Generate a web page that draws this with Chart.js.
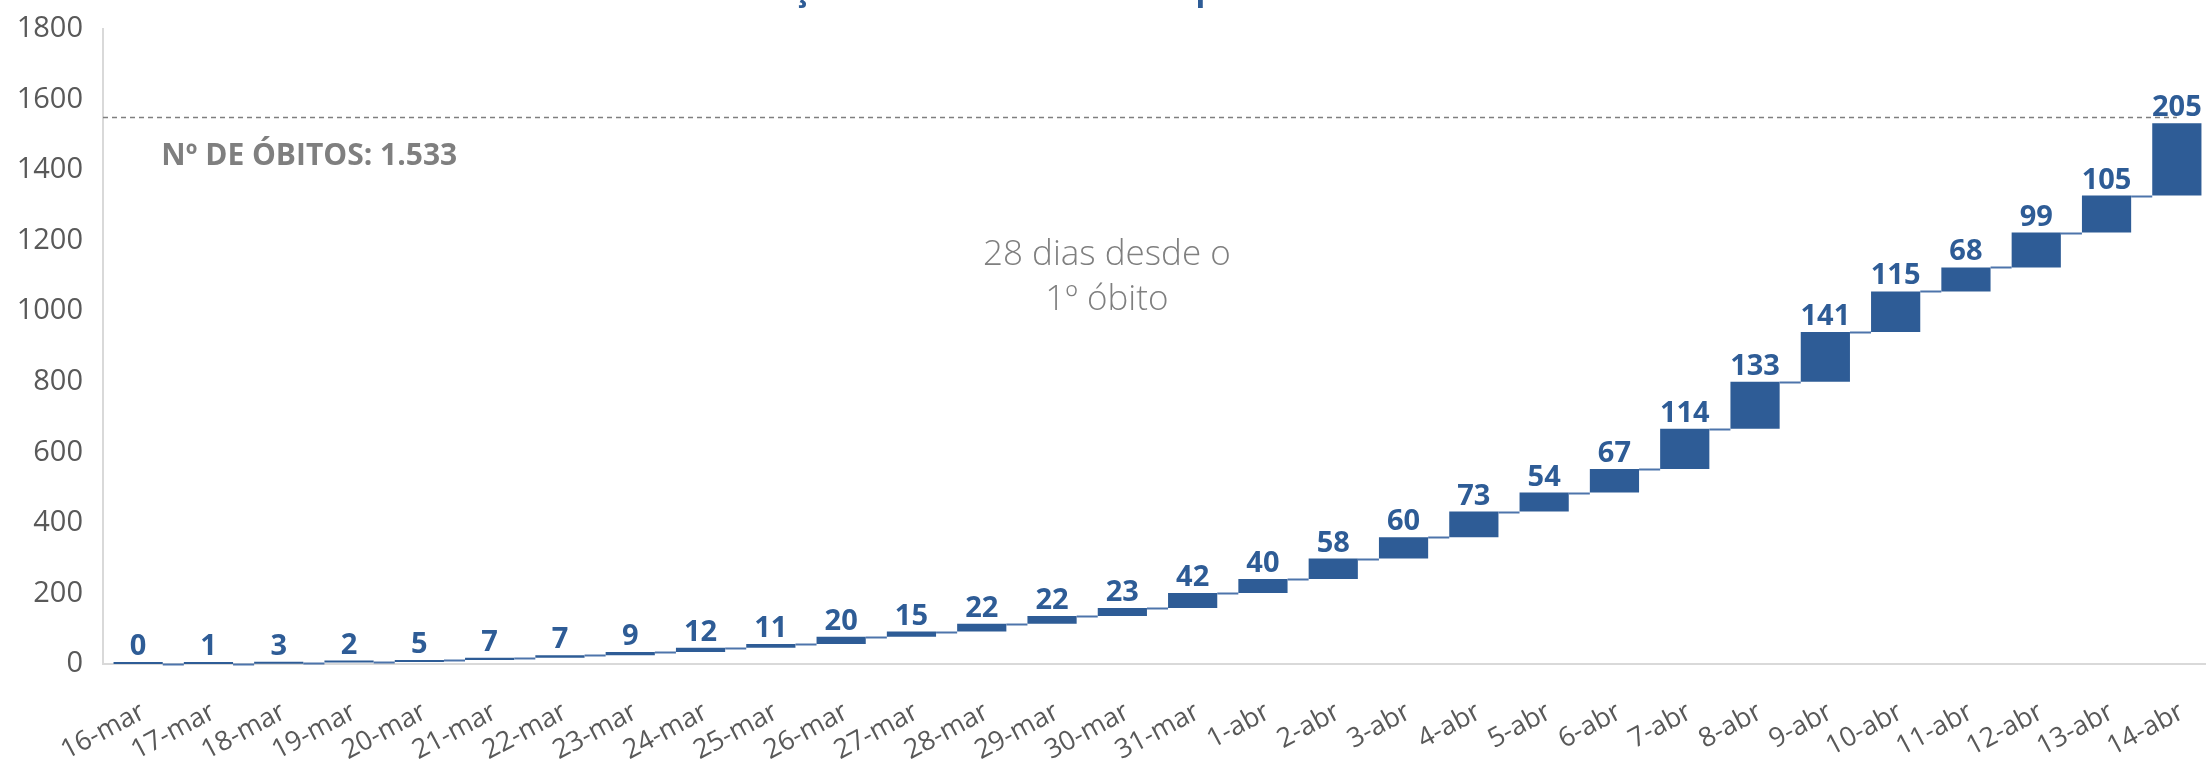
<!DOCTYPE html>
<html lang="pt">
<head>
<meta charset="utf-8">
<title>Óbitos por COVID-19</title>
<script src="https://cdn.jsdelivr.net/npm/chart.js@4.4.1/dist/chart.umd.min.js"></script>
<style>
  html, body { margin: 0; padding: 0; background: #fff; overflow: hidden; }
  #wrap { position: relative; width: 2212px; height: 762px; }
</style>
</head>
<body>
<div id="wrap"><canvas id="chart"></canvas></div>
<script>
// Daily new deaths, 16-mar .. 14-abr (waterfall: each bar floats on the running total)
const days = [
  '16-mar', '17-mar', '18-mar', '19-mar', '20-mar', '21-mar', '22-mar', '23-mar',
  '24-mar', '25-mar', '26-mar', '27-mar', '28-mar', '29-mar', '30-mar', '31-mar',
  '1-abr', '2-abr', '3-abr', '4-abr', '5-abr', '6-abr', '7-abr', '8-abr',
  '9-abr', '10-abr', '11-abr', '12-abr', '13-abr', '14-abr'
];
const newDeaths = [
  0, 1, 3, 2, 5, 7, 7, 9, 12, 11, 20, 15, 22, 22, 23, 42,
  40, 58, 60, 73, 54, 67, 114, 133, 141, 115, 68, 99, 105, 205
];
const yMax = 1800;
const yStep = 200;
const totalLineValue = 1550;   // dashed reference line
const totalLabel = 'Nº DE ÓBITOS: 1.533';
const noteLines = ['28 dias desde o', '1º óbito'];
const titleText = 'Evolução do número de óbitos por COVID-19 acumulados';

const BLUE = '#2E5C96';
const GREY = '#7F7F7F';
const TICK = '#595959';

// running total -> [start, end] for floating bars
let running = 0;
const ranges = newDeaths.map(v => {
  const start = running;
  running += v;
  return [start, running];
});

// Extra drawing: connectors, value labels, dashed total line, notes, clipped title
const waterfallExtras = {
  id: 'waterfallExtras',
  afterDatasetsDraw(chart) {
    const { ctx, chartArea, scales } = chart;
    const bars = chart.getDatasetMeta(0).data;
    ctx.save();

    // connectors between consecutive bars
    ctx.strokeStyle = '#4D74AB';
    ctx.lineWidth = 2;
    for (let i = 0; i < bars.length - 1; i++) {
      const a = bars[i], b = bars[i + 1];
      const y = Math.round(scales.y.getPixelForValue(ranges[i][1])) + 0.5;
      ctx.beginPath();
      ctx.moveTo(a.x + a.width / 2, y);
      ctx.lineTo(b.x - b.width / 2, y);
      ctx.stroke();
    }

    // value labels
    ctx.fillStyle = BLUE;
    ctx.font = 'bold 29px "Open Sans", "Noto Sans", sans-serif';
    ctx.textAlign = 'center';
    ctx.textBaseline = 'alphabetic';
    bars.forEach((bar, i) => {
      const top = Math.min(bar.y, bar.base);
      ctx.fillText(String(newDeaths[i]), bar.x, top - 7);
    });

    // dashed total line
    const yLine = Math.round(scales.y.getPixelForValue(totalLineValue)) + 0.5;
    ctx.strokeStyle = GREY;
    ctx.lineWidth = 1.5;
    ctx.setLineDash([5, 4]);
    ctx.beginPath();
    ctx.moveTo(chartArea.left, yLine);
    ctx.lineTo(bars[bars.length - 1].x, yLine);
    ctx.stroke();
    ctx.setLineDash([]);

    // total label
    ctx.fillStyle = GREY;
    ctx.font = 'bold 30px "Open Sans", "Noto Sans", sans-serif';
    ctx.textAlign = 'left';
    ctx.textBaseline = 'middle';
    ctx.fillText(totalLabel, scales.x.getPixelForValue(0.33), scales.y.getPixelForValue(1440));

    // note in the middle
    ctx.font = '300 35px "Open Sans", "Noto Sans", sans-serif';
    ctx.textAlign = 'center';
    const nx = scales.x.getPixelForValue(13.78);
    ctx.fillText(noteLines[0], nx, scales.y.getPixelForValue(1160));
    ctx.fillText(noteLines[1], nx, scales.y.getPixelForValue(1032));

    // title, mostly cut off by the top edge
    ctx.fillStyle = BLUE;
    ctx.font = 'bold 32px "Open Sans", "Noto Sans", sans-serif';
    ctx.textBaseline = 'alphabetic';
    ctx.fillText(titleText, (chartArea.left + chartArea.right) / 2, 0);

    ctx.restore();
  }
};

new Chart(document.getElementById('chart'), {
  type: 'bar',
  data: {
    labels: days,
    datasets: [{
      data: ranges,
      backgroundColor: BLUE,
      borderWidth: 0,
      barPercentage: 0.7,
      categoryPercentage: 1.0,
      minBarLength: 2,
    }],
  },
  options: {
    responsive: true,
    maintainAspectRatio: false,
    animation: false,
    devicePixelRatio: 1,
    layout: { padding: 0 },
    plugins: {
      legend: { display: false },
      tooltip: { enabled: false },
      title: { display: false },
    },
    scales: {
      x: {
        grid: { display: false, drawTicks: false },
        border: { display: true, color: '#D9D9D9', width: 2 },
        ticks: {
          color: TICK,
          font: { family: '"Open Sans", "Noto Sans", sans-serif', size: 27 },
          minRotation: 28,
          maxRotation: 28,
          autoSkip: false,
          padding: 32,
          labelOffset: 5,
        },
        // fixed axis band so the plot sits where the original does
        afterFit: s => { s.height = 98; s.paddingLeft = 0; s.paddingRight = 0; },
      },
      y: {
        min: 0,
        max: yMax,
        grid: { display: false, drawTicks: false },
        border: { display: true, color: '#D9D9D9', width: 2 },
        ticks: {
          stepSize: yStep,
          color: TICK,
          font: { family: '"Open Sans", "Noto Sans", sans-serif', size: 29 },
          padding: 20,
          callback: v => String(v),
        },
        afterFit: s => { s.width = 103; s.paddingTop = 29; s.paddingBottom = 0; },
      },
    },
  },
  plugins: [waterfallExtras],
});
</script>
</body>
</html>
